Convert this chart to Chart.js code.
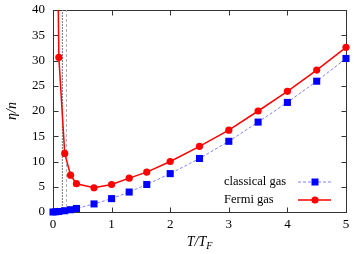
<!DOCTYPE html>
<html>
<head>
<meta charset="utf-8">
<script src="https://cdn.jsdelivr.net/npm/chart.js@4/dist/chart.umd.min.js"></script>
<style>
  html, body { margin: 0; padding: 0; background: #fff; }
  #box { width: 354px; height: 254px; }
</style>
</head>
<body>
<div id="box"><canvas id="viscosity"></canvas></div>
<script>
// values
var tFermi = [0.05, 0.1, 0.2, 0.3, 0.4, 0.7, 1.0, 1.3, 1.6, 2.0, 2.5, 3.0, 3.5, 4.0, 4.5, 5.0];
var etaFermi = [78, 30.6, 11.6, 7.3, 5.6, 4.8, 5.45, 6.7, 7.9, 10.0, 13.0, 16.2, 20.0, 23.9, 28.1, 32.6];

var tClassical = [0, 0.05, 0.1, 0.2, 0.3, 0.4, 0.7, 1.0, 1.3, 1.6, 2.0, 2.5, 3.0, 3.5, 4.0, 4.5, 5.0];
var etaClassical = [0, 0.05, 0.1, 0.25, 0.45, 0.7, 1.6, 2.65, 3.95, 5.45, 7.6, 10.6, 14.0, 17.8, 21.7, 25.9, 30.4];

var criticalT = [0.16, 0.23]; // the two vertical marker lines

var xTicks = [0, 1, 2, 3, 4, 5];
var yTicks = [0, 5, 10, 15, 20, 25, 30, 35, 40];

var seriesNames = ["classical gas", "Fermi gas"];

var FONT = "Liberation Serif";

function pairs(xs, ys) {
  return xs.map(function (x, i) { return { x: x, y: ys[i] }; });
}

// frame with inward ticks on all four sides, gnuplot style
var frame = {
  id: "frame",
  beforeDatasetsDraw: function (chart) {
    var a = chart.chartArea, ctx = chart.ctx;
    var sx = chart.scales.x, sy = chart.scales.y;
    var L = Math.round(a.left) + 0.5, R = Math.round(a.right) + 0.5;
    var T = Math.round(a.top) + 0.5, B = Math.round(a.bottom) + 0.5;
    ctx.save();
    ctx.strokeStyle = "#333";
    ctx.lineWidth = 1;
    ctx.strokeRect(L, T, R - L, B - T);
    ctx.beginPath();
    xTicks.forEach(function (v) {
      var p = Math.round(sx.getPixelForValue(v)) + 0.5;
      ctx.moveTo(p, B); ctx.lineTo(p, B - 5);
      ctx.moveTo(p, T); ctx.lineTo(p, T + 5);
    });
    yTicks.forEach(function (v) {
      var p = Math.round(sy.getPixelForValue(v)) + 0.5;
      ctx.moveTo(L, p); ctx.lineTo(L + 5, p);
      ctx.moveTo(R, p); ctx.lineTo(R - 5, p);
    });
    ctx.stroke();
    ctx.restore();
  },
  afterDraw: function (chart) {
    var a = chart.chartArea, ctx = chart.ctx;
    ctx.save();
    ctx.fillStyle = "#000";
    ctx.textBaseline = "middle";

    // axis titles
    var cx = (a.left + a.right) / 2;
    ctx.font = "italic 14px " + FONT;
    ctx.textAlign = "left";
    var w1 = ctx.measureText("T/T").width;
    ctx.font = "italic 10px " + FONT;
    var w2 = ctx.measureText("F").width;
    var x0 = cx - (w1 + w2) / 2;
    ctx.font = "italic 14px " + FONT;
    ctx.fillText("T/T", x0, 242);
    ctx.font = "italic 10px " + FONT;
    ctx.fillText("F", x0 + w1, 246);

    ctx.save();
    ctx.translate(12, (a.top + a.bottom) / 2);
    ctx.rotate(-Math.PI / 2);
    ctx.font = "italic 14px " + FONT;
    ctx.textAlign = "center";
    ctx.fillText("\u03b7/n", 0, 0);
    ctx.restore();

    // legend, bottom right inside the frame
    ctx.font = "12.5px " + FONT;
    ctx.textAlign = "left";
    var rows = [
      { y: 182, ds: chart.data.datasets[0] },
      { y: 200, ds: chart.data.datasets[1] }
    ];
    rows.forEach(function (r) {
      var ds = r.ds;
      ctx.fillStyle = "#000";
      ctx.fillText(ds.label, 224, r.y);
      ctx.strokeStyle = ds.borderColor;
      ctx.lineWidth = ds.borderWidth;
      ctx.setLineDash(ds.borderDash || []);
      ctx.beginPath();
      ctx.moveTo(298, r.y);
      ctx.lineTo(331, r.y);
      ctx.stroke();
      ctx.setLineDash([]);
      ctx.fillStyle = ds.pointBackgroundColor;
      if (ds.pointStyle === "rect") {
        ctx.fillRect(315 - 3.5, r.y - 3.5, 7, 7);
      } else {
        ctx.beginPath();
        ctx.arc(315, r.y, 3.6, 0, Math.PI * 2);
        ctx.fill();
      }
    });
    ctx.restore();
  }
};

var markerSets = criticalT.map(function (t, i) {
  return {
    label: "marker" + i,
    data: [{ x: t, y: yTicks[0] }, { x: t, y: yTicks[yTicks.length - 1] }],
    borderColor: i === 0 ? "#777" : "#b0b0b0",
    borderWidth: 1,
    borderDash: i === 0 ? [2, 1] : [3, 2],
    pointRadius: 0,
    order: 5
  };
});

var ctx = document.getElementById("viscosity").getContext("2d");
var chart = new Chart(ctx, {
  type: "line",
  data: {
    datasets: [
      {
        label: seriesNames[0],
        data: pairs(tClassical, etaClassical),
        borderColor: "#8080ff",
        borderWidth: 1,
        borderDash: [3, 2],
        pointStyle: "rect",
        pointRadius: 5,
        pointHoverRadius: 5,
        pointBorderWidth: 0,
        pointBackgroundColor: "#0000ff",
        pointBorderColor: "#0000ff",
        clip: false,
        order: 2
      },
      {
        label: seriesNames[1],
        data: pairs(tFermi, etaFermi),
        borderColor: "#ff0000",
        borderWidth: 1.5,
        pointStyle: "circle",
        pointRadius: 3.6,
        pointHoverRadius: 3.6,
        pointBorderWidth: 0,
        pointBackgroundColor: "#ff0000",
        pointBorderColor: "#ff0000",
        clip: { left: 10, top: 0, right: 10, bottom: 10 },
        order: 1
      }
    ].concat(markerSets)
  },
  plugins: [frame],
  options: {
    responsive: true,
    maintainAspectRatio: false,
    animation: false,
    events: [],
    layout: { padding: { top: 10, right: 8, left: 0, bottom: 0 } },
    plugins: {
      legend: { display: false },
      tooltip: { enabled: false }
    },
    scales: {
      x: {
        type: "linear",
        min: 0,
        max: 5,
        afterBuildTicks: function (s) { s.ticks = xTicks.map(function (v) { return { value: v }; }); },
        afterFit: function (s) { s.height = 42; s.paddingLeft = 0; s.paddingRight = 0; },
        grid: { display: false, drawTicks: false },
        border: { display: false },
        ticks: { color: "#000", padding: 5, maxRotation: 0, font: { family: FONT, size: 13 } }
      },
      y: {
        type: "linear",
        min: 0,
        max: 40,
        afterBuildTicks: function (s) { s.ticks = yTicks.map(function (v) { return { value: v }; }); },
        afterFit: function (s) { s.width = 53; s.paddingTop = 0; s.paddingBottom = 0; },
        grid: { display: false, drawTicks: false },
        border: { display: false },
        ticks: { color: "#000", padding: 8, font: { family: FONT, size: 13 } }
      }
    }
  }
});
</script>
</body>
</html>
